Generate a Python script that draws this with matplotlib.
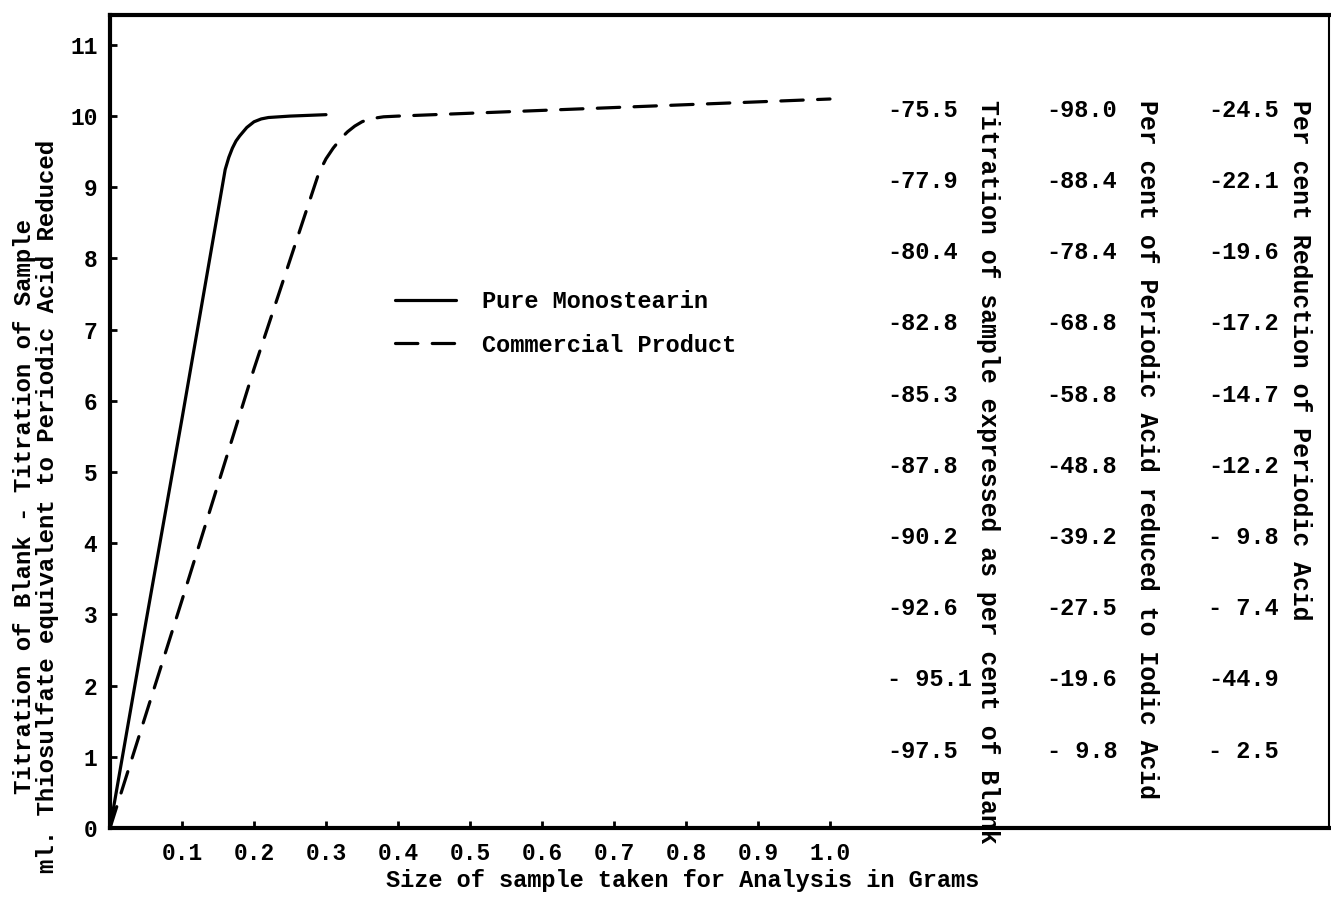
import matplotlib.pyplot as plt

# ml thiosulfate vs sample size
pure_x = [0.0, 0.05, 0.10, 0.16, 0.165, 0.17, 0.175, 0.18, 0.19, 0.20, 0.21, 0.22, 0.25, 0.30]
pure_y = [0.0, 2.9, 5.75, 9.25, 9.42, 9.55, 9.65, 9.72, 9.84, 9.92, 9.96, 9.98, 10.0, 10.02]

comm_x = [0.0, 0.10, 0.20, 0.29, 0.30, 0.31, 0.322, 0.33, 0.34, 0.35, 0.36, 0.38, 0.40,
          0.50, 0.60, 0.70, 0.80, 0.90, 1.00]
comm_y = [0.0, 3.2, 6.45, 9.2, 9.4, 9.55, 9.7, 9.78, 9.86, 9.92, 9.96, 9.99, 10.0,
          10.04, 10.08, 10.12, 10.16, 10.2, 10.24]

# conversion table on the right, one row per ml
rows = [10, 9, 8, 7, 6, 5, 4, 3, 2, 1]
pct_blank = ['-75.5', '-77.9', '-80.4', '-82.8', '-85.3', '-87.8', '-90.2', '-92.6', '- 95.1', '-97.5']
pct_reduced = ['-98.0', '-88.4', '-78.4', '-68.8', '-58.8', '-48.8', '-39.2', '-27.5', '-19.6', '- 9.8']
pct_reduction = ['-24.5', '-22.1', '-19.6', '-17.2', '-14.7', '-12.2', '- 9.8', '- 7.4', '-44.9', '- 2.5']

col_titles = ['Titration of sample expressed as per cent of Blank',
              'Per cent of Periodic Acid reduced to Iodic Acid',
              'Per cent Reduction of Periodic Acid']

x_ticks = [0.1, 0.2, 0.3, 0.4, 0.5, 0.6, 0.7, 0.8, 0.9, 1.0]
y_ticks = list(range(0, 12))

plt.rcParams['font.family'] = ['Liberation Mono', 'DejaVu Sans Mono']
plt.rcParams['font.weight'] = 'bold'
fs = 17
fs_big = 17.8

fig = plt.figure(figsize=(13.31, 9.10), dpi=100)
ax = fig.add_axes([110 / 1331, 82 / 910, 1219 / 1331, 813 / 910])

ax.plot(pure_x, pure_y, color='black', lw=2.3, solid_capstyle='round',
        solid_joinstyle='round', label='Pure Monostearin')
ax.plot(comm_x, comm_y, color='black', lw=2.3, dashes=(7, 4.5),
        dash_capstyle='round', label='Commercial Product')

ax.set_xlim(0, 1219 / 720)
ax.set_ylim(0, 11.42)

ax.set_xticks(x_ticks)
ax.set_xticklabels([f'{v:.1f}' for v in x_ticks])
ax.set_yticks(y_ticks)
ax.tick_params(direction='in', length=5, width=2, labelsize=16.5)
ax.tick_params(axis='x', pad=10)
ax.tick_params(axis='y', pad=9)
for s in ax.spines.values():
    s.set_linewidth(3)
ax.spines['right'].set_linewidth(1.5)

ax.set_xlabel('Size of sample taken for Analysis in Grams', fontsize=fs,
              fontweight='bold', labelpad=3)
ax.xaxis.label.set_x(0.47)
ax.set_ylabel('Titration of Blank - Titration of Sample\n'
              'ml. Thiosulfate equivalent to Periodic Acid Reduced',
              fontsize=17.3, fontweight='bold', linespacing=1.0)
ax.yaxis.label.set_va('center')
ax.yaxis.set_label_coords(-0.061, 0.395)

# table columns
col_x = [1.079, 1.301, 1.525]
title_x = [1.219, 1.44, 1.653]
for cx, vals in zip(col_x, [pct_blank, pct_reduced, pct_reduction]):
    for r, v in zip(rows, vals):
        ax.text(cx, r + 0.08, v, ha='left', va='center', fontsize=fs,
                fontweight='bold')
for tx, t in zip(title_x, col_titles):
    ax.text(tx, 10.22, t, rotation=-90, ha='center', va='top', fontsize=fs_big,
            fontweight='bold')

ax.legend(loc='center left', bbox_to_anchor=(0.216, 0.6205), frameon=False,
          fontsize=fs, handlelength=2.6, handletextpad=1.1, labelspacing=0.85)

fig.savefig('out.png', dpi=100)
